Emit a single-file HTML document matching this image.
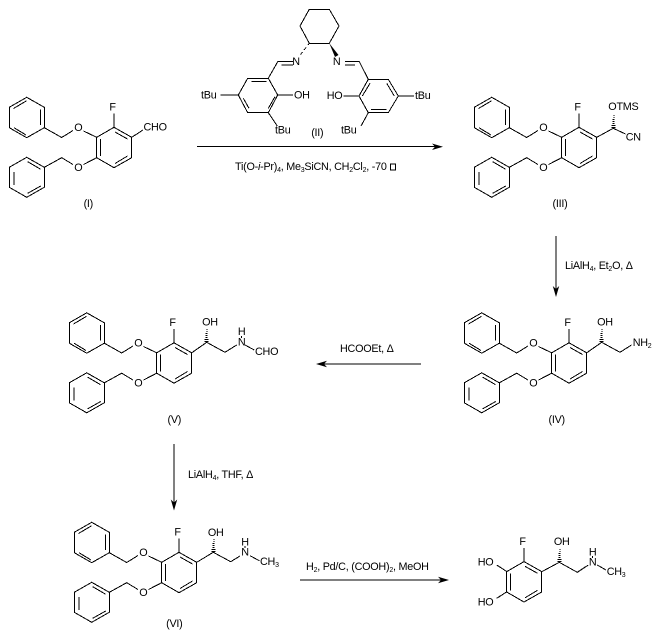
<!DOCTYPE html>
<html lang="en">
<head>
<meta charset="utf-8">
<title>Synthesis scheme</title>
<style>
html,body{margin:0;padding:0;background:#fff}
svg{display:block}
text{font-family:"Liberation Sans",Arial,sans-serif;font-size:10.8px;letter-spacing:-.25px;fill:#000}
.s{font-size:7px}
.m{text-anchor:middle}
path.l{fill:none;stroke:#000;stroke-width:1;shape-rendering:crispEdges}
</style>
</head>
<body>
<svg width="656" height="633" viewBox="0 0 656 633" xmlns="http://www.w3.org/2000/svg">
<defs>
  <g id="r">
    <path class="l" d="M96.7 137.3L114 127.3L131.7 137.3V157.7L114 167.7L96.7 157.7ZM100.5 139V156M115 132L127.5 139M115 163.5L127.5 156M114 127.3V113.5"/>
    <text class="m" x="112.5" y="110.7">F</text>
  </g>
  <g id="a">
    <use href="#r"/>
    <path class="l" d="M26.7 97.3L44.3 107.3V127.7L26.7 137.7L9.3 127.7V107.3ZM13.5 108.5L26.7 100.7M40.7 109.3V125M14 127.7L26 135M44.3 127.7L61.7 137.5L73 130.5M83.5 131L96.7 137.3M96.7 157.7L83.5 164.5M73 164.5L61.7 157.7L44.3 167.3M26.7 157.3L44.3 167.3V187.3L26.7 197.3L9.3 187.3V167.3ZM14 172V185M27.7 161.7L40.7 169.3M27.7 193.3L40.7 186"/>
    <text class="m" x="78.3" y="130.8">O</text>
    <text class="m" x="78.3" y="171">O</text>
  </g>
  <path id="h" class="l" d="M-2 -1H2M-2 -3H2M-1 -5H1M-1 -7H1M-1 -9H1M0 -11H1M0 -13H1"/>
</defs>

<!-- (I) -->
<use href="#a"/>
<path class="l" d="M131.7 137.3L143 130"/>
<text x="143.5" y="130.7">CHO</text>
<text class="m" x="88.3" y="207">(I)</text>

<!-- (II) -->
<path class="l" d="M309.3 9.3H329.3L339 26L329.3 43.3H309.3L300 26ZM309.3 43.3L308 45M306 47.5L304 50M302.5 52L300.5 54.5"/>
<path d="M329.3 43.3L335 57L338.5 55Z" fill="#000"/>
<path class="l" d="M277.7 61.7H293M281.7 65H293M277.7 61.7L268.3 78.3M268.3 78.3L277.7 95L268.3 112.7H247.7L238.3 95L247.7 78.3ZM251.7 81.7H266.7M275 96.7L268.3 108.3M243.3 98.3L249 108.3M277.7 95H293M220.7 95H238.3M268.3 112.7L277.3 126"/>
<text class="m" x="296" y="65">N</text>
<text x="294" y="98.5">OH</text>
<text x="201" y="98.5">tBu</text>
<text x="275" y="133.5">tBu</text>
<text class="m" x="317.3" y="136">(II)</text>
<path class="l" d="M345 61.7H359.3M345 65H355M359.3 61.7L368.3 79.3M368.3 79.3H388.3L398.3 96L388.3 112.7H368.3L359 96ZM370 83.3L362.3 96M371 109.3H386.7M394.3 96L386.7 83.3M343.3 96H359M398.3 96H414M368.3 112.7L361 126"/>
<text class="m" x="336.7" y="65">N</text>
<text x="326.7" y="99">HO</text>
<text x="415" y="99">tBu</text>
<text x="341" y="133.5">tBu</text>

<!-- Arrow 1 -->
<path class="l" d="M197 146.7H435"/>
<path d="M443 146.7L432 143.5L435 146.7L432 150Z" fill="#000"/>
<text x="235" y="170">Ti(O-<tspan font-style="italic">i</tspan>-Pr)<tspan class="s" dy="2">4</tspan><tspan dy="-2">, Me</tspan><tspan class="s" dy="2">3</tspan><tspan dy="-2">SiCN, CH</tspan><tspan class="s" dy="2">2</tspan><tspan dy="-2">Cl</tspan><tspan class="s" dy="2">2</tspan><tspan dy="-2">, -70</tspan></text>
<rect x="390.5" y="164" width="5" height="6" fill="none" stroke="#000" stroke-width="1" shape-rendering="crispEdges"/>

<!-- (III) -->
<g transform="translate(465 0)"><use href="#a"/></g>
<path class="l" d="M596.7 137.3L613.3 128.3L625.5 134"/>
<use href="#h" x="613.3" y="128.3"/>
<text x="608.3" y="110">OTMS</text>
<text x="625.7" y="140.7">CN</text>
<text class="m" x="560" y="207">(III)</text>

<!-- Arrow 2 -->
<path class="l" d="M556 236V290"/>
<path d="M556 297L552.8 286L556 289L559.2 286Z" fill="#000"/>
<text x="565" y="269">LiAlH<tspan class="s" dy="2">4</tspan><tspan dy="-2">, Et</tspan><tspan class="s" dy="2">2</tspan><tspan dy="-2">O, Δ</tspan></text>

<!-- (IV) -->
<g transform="translate(455 215.5)"><use href="#a"/></g>
<path class="l" d="M586.7 352.8L601.7 342.3L620 352.3L631.5 345"/>
<use href="#h" x="601.7" y="342.3"/>
<text class="m" x="605" y="325.5">OH</text>
<text x="632.7" y="346">NH<tspan class="s" dy="2">2</tspan></text>
<text class="m" x="556.7" y="423">(IV)</text>

<!-- Arrow 3 -->
<path class="l" d="M421 364H323"/>
<path d="M316 364L327 360.8L324 364L327 367.2Z" fill="#000"/>
<text x="340" y="352">HCOOEt, Δ</text>

<!-- (V) -->
<g transform="translate(60 215.5)"><use href="#a"/></g>
<path class="l" d="M191.7 352.8L206.7 342.3L225 352.3L236.7 345M241.7 335.8V338M245 345L254.3 350"/>
<use href="#h" x="206.7" y="342.3"/>
<text class="m" x="210" y="325.5">OH</text>
<text class="m" x="241.7" y="335">H</text>
<text class="m" x="241.7" y="345.5">N</text>
<text x="255" y="355">CHO</text>
<text class="m" x="174.3" y="423">(V)</text>

<!-- Arrow 4 -->
<path class="l" d="M174 444V504"/>
<path d="M174 510.5L170.8 499.5L174 502.5L177.2 499.5Z" fill="#000"/>
<text x="188" y="478">LiAlH<tspan class="s" dy="2">4</tspan><tspan dy="-2">, THF, Δ</tspan></text>

<!-- (VI) -->
<g transform="translate(65 425)"><use href="#a"/></g>
<path class="l" d="M196.7 562.3L213.3 552.3L230.7 561.7L240 556M245 546V548M250 555.7L259.3 560.7"/>
<use href="#h" x="213.3" y="552.3"/>
<text class="m" x="215.7" y="536">OH</text>
<text class="m" x="245" y="545.5">H</text>
<text class="m" x="245" y="555.5">N</text>
<text x="260" y="565">CH<tspan class="s" dy="2">3</tspan></text>
<text class="m" x="174.3" y="627">(VI)</text>

<!-- Arrow 5 -->
<path class="l" d="M300 580H442"/>
<path d="M449 580L438 576.8L441 580L438 583.2Z" fill="#000"/>
<text x="306" y="570">H<tspan class="s" dy="2">2</tspan><tspan dy="-2">, Pd/C, (COOH)</tspan><tspan class="s" dy="2">2</tspan><tspan dy="-2">, MeOH</tspan></text>

<!-- Product -->
<g transform="translate(410 434.3)"><use href="#r"/></g>
<path class="l" d="M496.7 565L507 571.7M496.7 598.3L507 591.7M541.7 571.7L559.3 562.3L577.3 572.3L588.3 565M592.7 556V558M597.3 565L606 570"/>
<use href="#h" x="559.3" y="562.3"/>
<text x="477.7" y="565.7">HO</text>
<text x="477.7" y="605.7">HO</text>
<text class="m" x="561.7" y="545">OH</text>
<text class="m" x="592.7" y="555.5">H</text>
<text class="m" x="592.7" y="565.5">N</text>
<text x="606.7" y="575">CH<tspan class="s" dy="2">3</tspan></text>
</svg>
</body>
</html>
